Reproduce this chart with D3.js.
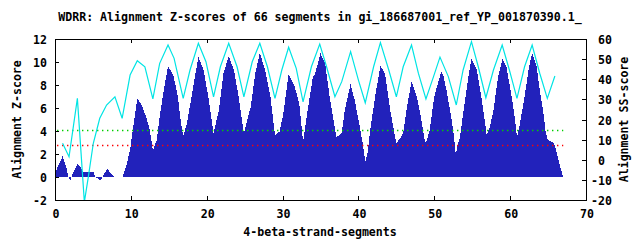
<!DOCTYPE html>
<html>
<head>
<meta charset="utf-8">
<script src="https://cdnjs.cloudflare.com/ajax/libs/d3/7.8.5/d3.min.js"></script>
<style>
  body { margin: 0; background: #fff; }
  svg text { font-family: "DejaVu Sans Mono", monospace; font-weight: bold; font-size: 11.6px; fill: #000; }
</style>
</head>
<body>
<div id="chart"></div>
<script>
"use strict";

var titleText = "WDRR: Alignment Z-scores of 66 segments in gi_186687001_ref_YP_001870390.1_";
var xLabel = "4-beta-strand-segments";
var yLabel = "Alignment Z-score";
var y2Label = "Alignment SS-score";

// x ticks, left (Z) ticks, right (SS) ticks
var xTicks = [0, 10, 20, 30, 40, 50, 60, 70];
var yTicks = [-2, 0, 2, 4, 6, 8, 10, 12];
var y2Ticks = [-20, -10, 0, 10, 20, 30, 40, 50, 60];

// Z-score curve (blue area), segment position -> score
var zPos = [0, 0.5, 1, 1.5, 1.76, 2, 2.4, 2.94, 3.3, 3.7, 5.05, 5.3, 5.6, 6, 6.4, 6.9, 7.3, 7.8, 8.9, 9.4,
  9.9, 10.4, 10.85, 11.2, 11.6, 12, 12.5, 12.9, 13.4, 13.8, 14.2, 14.9, 15.6, 16.2, 16.5, 16.9, 17.4, 18, 18.9, 19.6,
  20.2, 20.9, 21.6, 22.2, 22.9, 23.6, 24.2, 24.9, 25.8, 26.4, 27, 27.7, 28.4, 29, 29.6, 30.1, 30.8, 31.6, 32.2, 32.7,
  33.3, 34, 34.3, 35, 35.6, 36.2, 36.8, 37.1, 37.8, 38.2, 38.97, 39.5, 40.1, 40.6, 40.9, 41.2, 41.5, 42.2, 42.9, 43.5,
  44.2, 44.7, 45, 45.5, 45.9, 46.4, 47, 47.7, 48.3, 48.7, 48.9, 49.4, 50, 50.9, 51.2, 51.6, 52.3, 52.6, 52.85, 53,
  53.4, 53.8, 54.5, 54.9, 55.6, 56.2, 56.7, 56.9, 57.3, 57.8, 58.4, 59, 59.5, 60.2, 60.6, 60.9, 61.3, 61.9, 62.5, 62.9,
  63.5, 63.9, 64.4, 64.7, 65, 65.5, 65.9, 66.2, 66.6, 66.9, 67];
var zScore = [0.3, 1.1, 1.8, 0.8, 0, -0.3, 0.4, 1.13, 0.9, 0.46, 0.45, 0, -0.1, -0.3, 0.2, 0.67, 0.4, 0, 0, 1.0,
  2.35, 4.8, 6.84, 6.5, 5.97, 5.24, 4.1, 2.3, 3.2, 5.2, 7.0, 9.65, 8.87, 7.0, 5.2, 3.57, 4.67, 7.0, 10.46, 9.3,
  7.0, 3.8, 5.8, 9.0, 10.5, 9.3, 7.0, 3.8, 6.1, 9.0, 10.8, 9.3, 7.0, 3.65, 3.94, 5.5, 8.95, 7.85, 6.4, 3.07,
  5.8, 8.7, 9.0, 10.75, 9.9, 7.0, 4.67, 3.45, 3.8, 5.8, 8.09, 6.7, 4.67, 2.78, 1.33, 2.06, 3.8, 7.0, 9.65, 9.0,
  5.8, 3.94, 2.93, 3.36, 3.8, 6.1, 8.29, 7.0, 4.96, 3.36, 2.93, 4.1, 7.0, 9.16, 8.87, 7.56, 4.96, 3.5, 1.83, 2.6,
  3.5, 5.5, 8.7, 10.3, 9.3, 7.0, 4.67, 3.65, 4.3, 5.8, 8.7, 10.3, 9.6, 7.0, 5.2, 3.45, 4.67, 7.0, 9.6, 10.8,
  9.6, 7.56, 5.5, 3.8, 3.2, 3.07, 2.78, 1.9, 0.9, 0.17, 0];

// SS-score curve (cyan line, right axis)
var ssPos = [1, 1.85, 2.95, 3.87, 4.4, 5.05, 5.9, 6.8, 7.9, 8.85, 9.9, 10.85, 11.85, 12.9, 13.8, 14.9, 15.7, 16.9,
  17.8, 18.9, 19.9, 20.9, 21.8, 22.9, 24, 24.9, 26, 27, 28, 29, 29.9, 30.8, 31.8, 32.7, 33.8, 34.9, 35.8, 36.9,
  37.8, 38.97, 40, 40.9, 42, 42.9, 44, 45, 45.9, 47, 47.9, 48.9, 49.9, 50.75, 51.85, 52.9, 53.8, 54.9, 55.8, 56.8,
  57.8, 58.95, 59.9, 60.9, 61.9, 62.9, 63.9, 64.9, 65.9];
var ssScore = [8.2, 1.5, 30.5, -21, -8.4, 8.2, 20.6, 27.2, 31.3, 20.6, 42.1, 49.2, 46.2, 30.2, 47.9, 57.0, 50.4, 30.5,
  44.6, 57.9, 48.7, 31.3, 46.2, 57.9, 46.2, 31.3, 48.7, 57.9, 46.2, 30.5, 44.6, 55.9, 45.4, 28.8, 46.2, 57.5, 46.2, 31.3,
  38.8, 53.7, 39.6, 28.3, 46.2, 58.2, 44.6, 31.3, 46.2, 57.0, 43.0, 30.2, 41.3, 51.0, 41.3, 27.2, 44.6, 58.7, 46.2, 30.8,
  44.6, 57.0, 44.6, 30.5, 46.2, 57.0, 43.0, 30.5, 41.6];

// dotted threshold lines on the Z axis
var thresholdValues = [4.05, 2.75];
var thresholdColors = ["#00d000", "#ff0000"];
var thresholdEnd = 67;

// set the dimensions of the graph
var width = 640, height = 240;
var plot = {left: 55, right: 586, top: 39, bottom: 200};
var ticLen = 4;

var x = d3.scaleLinear().domain([0, 70]).range([plot.left, plot.right]);
var y = d3.scaleLinear().domain([-2, 12]).range([plot.bottom, plot.top]);
var y2 = d3.scaleLinear().domain([-20, 60]).range([plot.bottom, plot.top]);

var svg = d3.select("#chart").append("svg")
    .attr("width", width)
    .attr("height", height);

svg.append("defs").append("clipPath")
    .attr("id", "plotclip")
  .append("rect")
    .attr("x", plot.left)
    .attr("y", plot.top)
    .attr("width", plot.right - plot.left)
    .attr("height", plot.bottom - plot.top);

var zData = zPos.map(function(p, i) { return {x: p, v: zScore[i]}; });
var ssData = ssPos.map(function(p, i) { return {x: p, v: ssScore[i]}; });

var g = svg.append("g").attr("clip-path", "url(#plotclip)");

// blue Z-score area
var area = d3.area()
    .x(function(d) { return x(d.x); })
    .y0(y(0))
    .y1(function(d) { return y(d.v); });

g.append("path")
    .datum(zData)
    .attr("d", area)
    .attr("fill", "#2222bb")
    .attr("shape-rendering", "crispEdges");

// threshold dotted lines, single pixel dots every 4px
thresholdValues.forEach(function(t, i) {
    var py = Math.round(y(t));
    g.append("line")
        .attr("x1", x(0) + 2)
        .attr("x2", x(thresholdEnd))
        .attr("y1", py + 0.5)
        .attr("y2", py + 0.5)
        .attr("stroke", thresholdColors[i])
        .attr("stroke-width", 1.4)
        .attr("stroke-dasharray", "1.4,3.6");
});

// cyan SS-score line
var ssLine = d3.line()
    .x(function(d) { return x(d.x); })
    .y(function(d) { return y2(d.v); });

g.append("path")
    .datum(ssData)
    .attr("d", ssLine)
    .attr("fill", "none")
    .attr("stroke", "#00e4e4")
    .attr("stroke-width", 1.2);

// frame
svg.append("rect")
    .attr("x", plot.left + 0.5)
    .attr("y", plot.top + 0.5)
    .attr("width", plot.right - plot.left)
    .attr("height", plot.bottom - plot.top)
    .attr("fill", "none")
    .attr("stroke", "#000")
    .attr("stroke-width", 1)
    .attr("shape-rendering", "crispEdges");

var ticks = svg.append("g")
    .attr("stroke", "#000")
    .attr("shape-rendering", "crispEdges");

// x ticks on bottom and mirrored on top
xTicks.forEach(function(t) {
    var px = Math.round(x(t)) + 0.5;
    ticks.append("line").attr("x1", px).attr("x2", px)
        .attr("y1", plot.bottom).attr("y2", plot.bottom - ticLen);
    ticks.append("line").attr("x1", px).attr("x2", px)
        .attr("y1", plot.top).attr("y2", plot.top + ticLen);
    svg.append("text")
        .attr("x", x(t) + 1)
        .attr("y", 214)
        .attr("dominant-baseline", "central")
        .style("text-anchor", "middle")
        .text(t);
});

// left axis
yTicks.forEach(function(t) {
    var py = Math.round(y(t)) + 0.5;
    ticks.append("line").attr("x1", plot.left).attr("x2", plot.left + ticLen)
        .attr("y1", py).attr("y2", py);
    svg.append("text")
        .attr("x", 47)
        .attr("y", y(t) + 1)
        .attr("dominant-baseline", "central")
        .style("text-anchor", "end")
        .text(t < 0 ? "-" + Math.abs(t) : t);
});

// right axis (labels left aligned, leaving room for a sign)
y2Ticks.forEach(function(t) {
    var py = Math.round(y2(t)) + 0.5;
    ticks.append("line").attr("x1", plot.right).attr("x2", plot.right - ticLen)
        .attr("y1", py).attr("y2", py);
    svg.append("text")
        .attr("x", t < 0 ? 591 : 598)
        .attr("y", y2(t) + 1)
        .attr("dominant-baseline", "central")
        .style("text-anchor", "start")
        .text(t < 0 ? "-" + Math.abs(t) : t);
});

// titles
svg.append("text")
    .attr("x", 320)
    .attr("y", 17)
    .attr("dominant-baseline", "central")
    .style("text-anchor", "middle")
    .text(titleText);

svg.append("text")
    .attr("x", 320)
    .attr("y", 232)
    .attr("dominant-baseline", "central")
    .style("text-anchor", "middle")
    .text(xLabel);

svg.append("text")
    .attr("transform", "translate(17," + ((plot.top + plot.bottom) / 2) + ") rotate(-90)")
    .attr("dominant-baseline", "central")
    .style("text-anchor", "middle")
    .text(yLabel);

svg.append("text")
    .attr("transform", "translate(624," + ((plot.top + plot.bottom) / 2) + ") rotate(-90)")
    .attr("dominant-baseline", "central")
    .style("text-anchor", "middle")
    .text(y2Label);
</script>
</body>
</html>
